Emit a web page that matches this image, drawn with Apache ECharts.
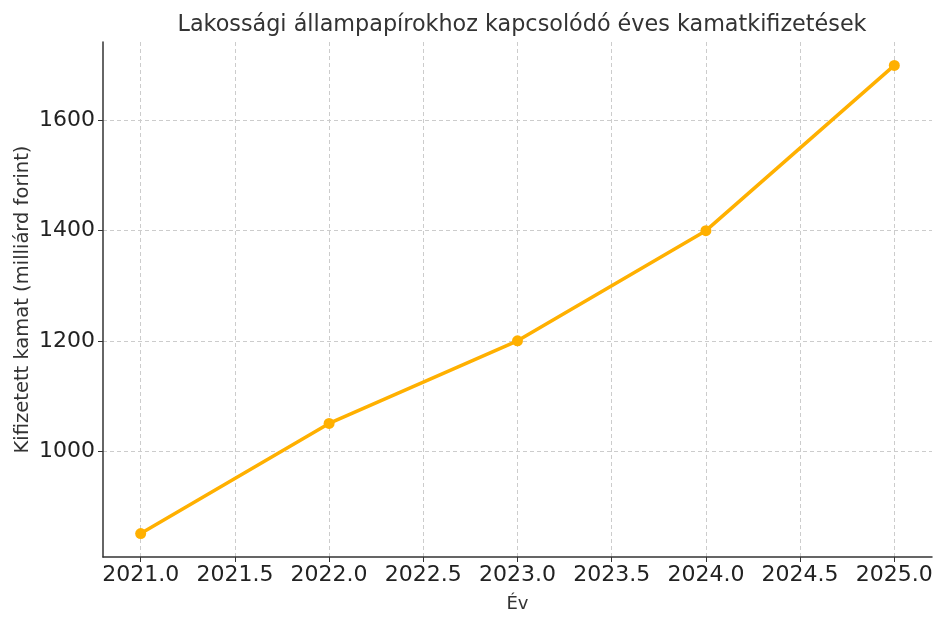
<!DOCTYPE html>
<html lang="hu">
<head>
    <meta charset="UTF-8">
    <title>Kamatkifizetések</title>
    <script src="https://cdn.jsdelivr.net/npm/echarts@6/dist/echarts.min.js"></script>
    <style>
        html, body { margin: 0; padding: 0; background: #fff; }
        #chart1 { width: 946px; height: 626px; }
    </style>
</head>
<body>
<div id="chart1"></div>
<script type="text/javascript">
    // adatok
    var years = [2021, 2022, 2023, 2024, 2025];
    var interest = [850, 1050, 1200, 1400, 1700];
    var xTicks = [2021, 2021.5, 2022, 2022.5, 2023, 2023.5, 2024, 2024.5, 2025];
    var yTicks = [1000, 1200, 1400, 1600];

    var font = 'DejaVu Sans';
    var myChart1 = echarts.init(document.getElementById('chart1'));

    myChart1.setOption({
        animation: false,
        title: {
            text: 'Lakossági állampapírokhoz kapcsolódó éves kamatkifizetések',
            left: 517, top: 9, textAlign: 'center',
            textStyle: { fontFamily: font, fontSize: 22.3, fontWeight: 'normal', color: '#333' }
        },
        grid: { left: 103, right: 14, top: 42, bottom: 69, outerBoundsMode: 'none' },
        xAxis: {
            type: 'value',
            min: 2020.8, max: 2025.2,
            name: 'Év', nameLocation: 'middle', nameGap: 38,
            nameTextStyle: { fontFamily: font, fontSize: 18, color: '#333' },
            axisLine: { lineStyle: { color: '#333', width: 1.5 } },
            axisTick: { show: true, length: 5, lineStyle: { color: '#333' }, customValues: xTicks },
            axisLabel: {
                customValues: xTicks, fontFamily: font, fontSize: 22, color: '#222', margin: 7,
                formatter: function (v) { return v.toFixed(1); }
            },
            splitLine: { show: true, lineStyle: { color: '#ccc', type: [4, 3], width: 1 } }
        },
        yAxis: {
            type: 'value',
            min: 807.5, max: 1742.5,
            name: 'Kifizetett kamat (milliárd forint)', nameLocation: 'middle', nameGap: 70,
            nameMoveOverlap: false,
            nameTextStyle: { fontFamily: font, fontSize: 19.5, color: '#333' },
            axisLine: { show: true, lineStyle: { color: '#333', width: 1.5 } },
            axisTick: { show: true, length: 5, lineStyle: { color: '#333' }, customValues: yTicks },
            axisLabel: {
                customValues: yTicks, fontFamily: font, fontSize: 22, color: '#222', margin: 8,
                formatter: function (v) { return String(v); }
            },
            splitLine: { show: true, lineStyle: { color: '#ccc', type: [4, 3], width: 1 } }
        },
        series: [{
            type: 'line',
            data: years.map(function (y, i) { return [y, interest[i]]; }),
            symbol: 'circle', symbolSize: 11,
            lineStyle: { color: '#ffb000', width: 3.5 },
            itemStyle: { color: '#ffb000' }
        }]
    });
</script>
</body>
</html>
